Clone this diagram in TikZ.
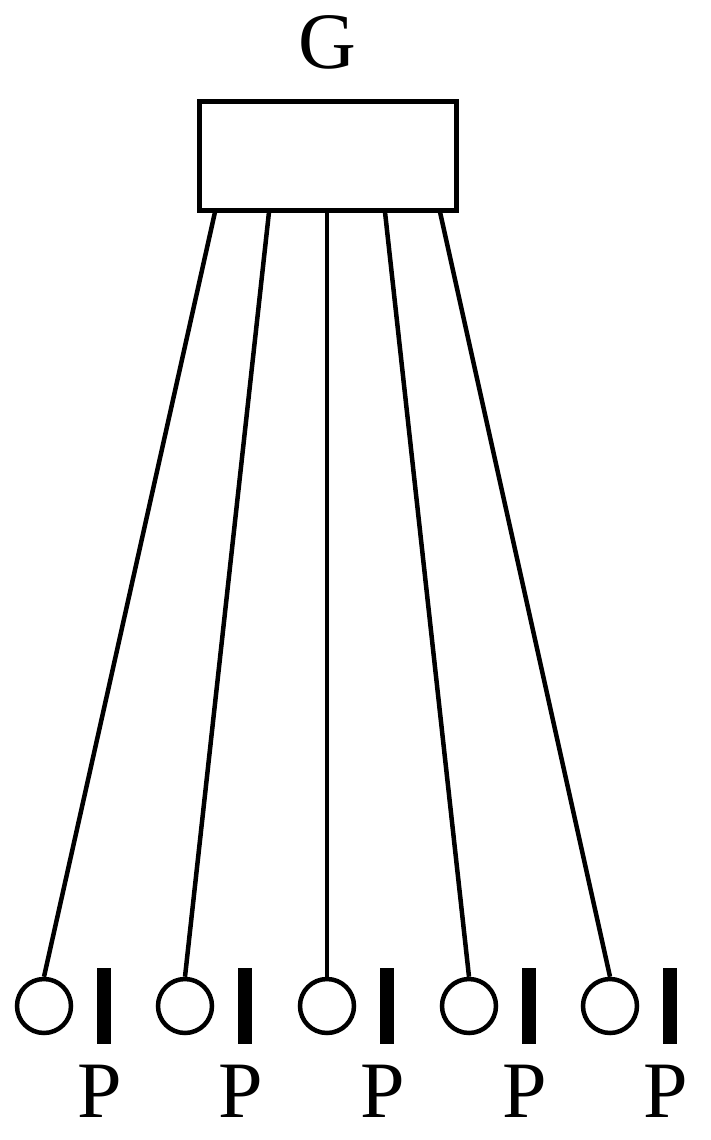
\documentclass[tikz,border=0pt]{standalone}
\usepackage{fontspec}
\setmainfont{Liberation Serif}
\begin{document}
\begin{tikzpicture}[x=1pt,y=-1pt,
  gbox/.style={draw,line width=5pt,rectangle,minimum width=257pt,minimum height=109pt,inner sep=0pt},
  port/.style={draw,line width=4.5pt,circle,minimum size=54pt,inner sep=0pt},
  plate/.style={fill=black,rectangle,minimum width=14pt,minimum height=76pt,inner sep=0pt},
  lbl/.style={font=\fontsize{80}{96}\selectfont,inner sep=0pt,anchor=base},
  wire/.style={line width=4.5pt}]
\useasboundingbox (0,0) rectangle (710,1140);
\node[gbox] (box) at (327.5,155.5) {};
\node[lbl] (g) at (327,69) {G};
\foreach \i/\cx in {1/44,2/185,3/327,4/469,5/610}{
  \node[port] (c\i) at (\cx,1006) {};
  \node[plate] (b\i) at (\cx+60,1006) {};
  \node[lbl] (p\i) at (\cx+56,1117) {P};
}
\coordinate (t1) at (215,212);
\coordinate (t2) at (269,212);
\coordinate (t3) at (327,212);
\coordinate (t4) at (385,212);
\coordinate (t5) at (440,212);
\foreach \i in {1,...,5}{
  \draw[wire] (t\i) -- (c\i.north);
}
\end{tikzpicture}
\end{document}
